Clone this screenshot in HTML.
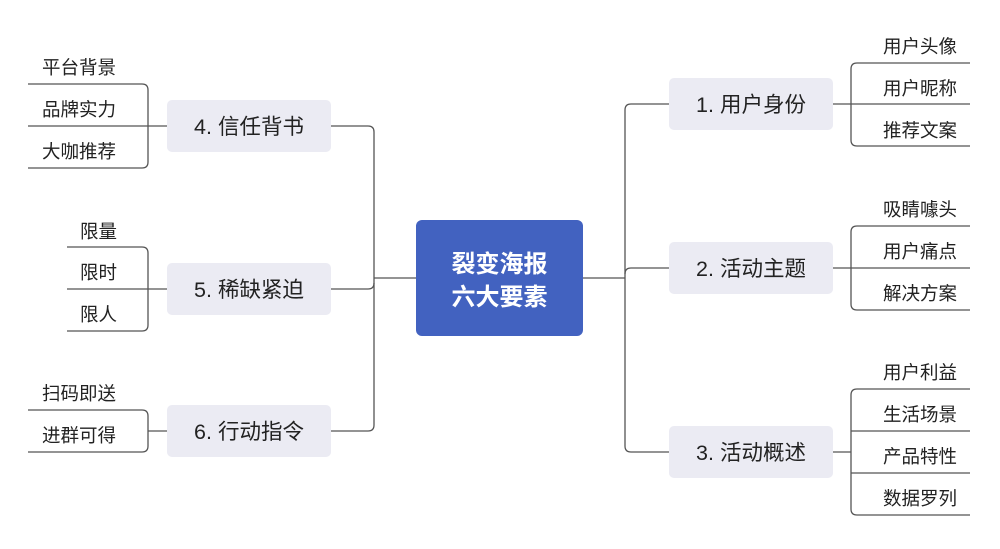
<!DOCTYPE html>
<html><head><meta charset="utf-8"><style>
html,body{margin:0;padding:0;background:#fff}
svg text{font-family:"Liberation Sans","Noto Sans CJK SC",sans-serif;fill:#222}
</style></head><body>
<svg width="1000" height="544" viewBox="0 0 1000 544" xmlns="http://www.w3.org/2000/svg">
<g fill="none" stroke="#555" stroke-width="1.3">
<path d="M583 278 H625"/>
<path d="M669 104 H631 Q625 104 625 110 V446 Q625 452 631 452 H669"/>
<path d="M625 274 Q625 268 631 268 H669"/>
<path d="M416 278 H374"/>
<path d="M331 126 H368 Q374 126 374 132 V425 Q374 431 368 431 H331"/>
<path d="M374 283 Q374 289 368 289 H331"/>
<path d="M833 104 H970"/>
<path d="M970 63 H857 Q851 63 851 69 V140 Q851 146 857 146 H970"/>
<path d="M833 268 H970"/>
<path d="M970 226 H857 Q851 226 851 232 V304 Q851 310 857 310 H970"/>
<path d="M833 452 H851"/>
<path d="M970 389 H857 Q851 389 851 395 V509 Q851 515 857 515 H970"/>
<path d="M851 431 H970 M851 473 H970"/>
<path d="M167 126 H28"/>
<path d="M28 84 H142 Q148 84 148 90 V162 Q148 168 142 168 H28"/>
<path d="M167 289 H67"/>
<path d="M67 247 H142 Q148 247 148 253 V325 Q148 331 142 331 H67"/>
<path d="M167 431 H148"/>
<path d="M28 410 H142 Q148 410 148 416 V446 Q148 452 142 452 H28"/>
</g>
<rect x="416" y="220" width="167" height="116" rx="6" fill="#4262c0"/>
<text x="499.5" y="272" text-anchor="middle" font-size="24" font-weight="bold" style="fill:#fff">裂变海报</text>
<text x="499.5" y="305" text-anchor="middle" font-size="24" font-weight="bold" style="fill:#fff">六大要素</text>
<g fill="#ebebf3">
<rect x="669" y="78" width="164" height="52" rx="5"/>
<rect x="669" y="242" width="164" height="52" rx="5"/>
<rect x="669" y="426" width="164" height="52" rx="5"/>
<rect x="167" y="100" width="164" height="52" rx="5"/>
<rect x="167" y="263" width="164" height="52" rx="5"/>
<rect x="167" y="405" width="164" height="52" rx="5"/>
</g>
<g font-size="21.5" text-anchor="middle">
<text x="751" y="112">1. 用户身份</text>
<text x="751" y="276">2. 活动主题</text>
<text x="751" y="460">3. 活动概述</text>
<text x="249" y="134">4. 信任背书</text>
<text x="249" y="297">5. 稀缺紧迫</text>
<text x="249" y="439">6. 行动指令</text>
</g>
<g font-size="18.5">
<text x="883" y="53">用户头像</text>
<text x="883" y="95">用户昵称</text>
<text x="883" y="137">推荐文案</text>
<text x="883" y="216">吸睛噱头</text>
<text x="883" y="258">用户痛点</text>
<text x="883" y="300">解决方案</text>
<text x="883" y="379">用户利益</text>
<text x="883" y="421">生活场景</text>
<text x="883" y="463">产品特性</text>
<text x="883" y="505">数据罗列</text>
<text x="42" y="74">平台背景</text>
<text x="42" y="116">品牌实力</text>
<text x="42" y="158">大咖推荐</text>
<text x="80" y="238">限量</text>
<text x="80" y="279">限时</text>
<text x="80" y="321">限人</text>
<text x="42" y="400">扫码即送</text>
<text x="42" y="442">进群可得</text>
</g>
</svg>
</body></html>
